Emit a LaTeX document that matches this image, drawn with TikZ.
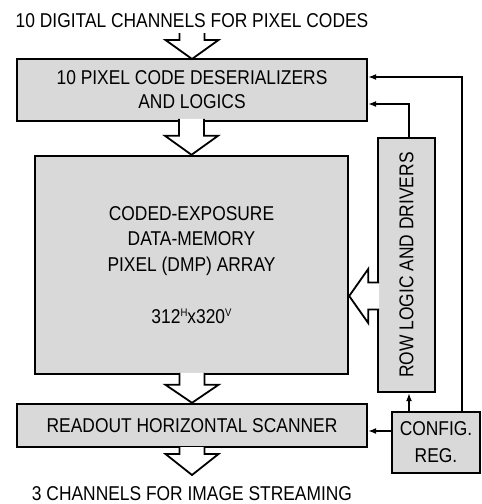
\documentclass[tikz,border=0pt]{standalone}
\usepackage{fontspec}
\setmainfont{Liberation Sans}[FakeStretch=0.87]
\usetikzlibrary{arrows.meta,calc}
\definecolor{boxgray}{RGB}{217,217,217}
\newcommand{\supx}[1]{\raisebox{6.8pt}{\fontsize{11}{11}\selectfont #1}}
\begin{document}
\begin{tikzpicture}[x=1pt,y=-1pt,
  blk/.style={draw=black,fill=boxgray,line width=2.4pt,inner sep=0pt,align=center,
    font=\fontsize{20}{24}\selectfont},
  lbl/.style={inner sep=0pt,anchor=base,font=\fontsize{20}{24}\selectfont},
  barrow/.style={draw=black,fill=white,line width=1.8pt,line join=miter},
  conn/.style={draw=black,line width=1.3pt,-{Latex[length=8pt,width=6pt]}}]
\useasboundingbox (0,0) rectangle (482,504);

\node[lbl] (inlbl) at (192,27) {10 DIGITAL CHANNELS FOR PIXEL CODES};
\node[blk,minimum width=350pt,minimum height=62pt] (top) at (192,90)
  {10 PIXEL CODE DESERIALIZERS\\AND LOGICS};
\node[blk,minimum width=313pt,minimum height=218pt] (arr) at (191.5,265)
  {CODED-EXPOSURE\\[1.5pt]DATA-MEMORY\\[1.5pt]PIXEL (DMP) ARRAY\\[28pt]312\supx{H}x320\supx{V}};
\node[blk,rotate=90,minimum width=254pt,minimum height=57pt] (rl) at (406.5,265)
  {ROW LOGIC AND DRIVERS};
\node[blk,minimum width=350pt,minimum height=43pt] (ro) at (192,425.5)
  {READOUT HORIZONTAL SCANNER};
\node[blk,minimum width=88pt,minimum height=61pt,font=\fontsize{20}{27}\selectfont] (cfg) at (436,442.5)
  {CONFIG.\\REG.};
\node[lbl] (outlbl) at (192,500) {3 CHANNELS FOR IMAGE STREAMING};

% block arrows
\draw[barrow,shift={(192,59)}] (-12.5,-26) -- (-12.5,-19) -- (-26.5,-19) -- (0,0) -- (26.5,-19) -- (12.5,-19) -- (12.5,-26);
\draw[barrow,shift={(arr.north)}] (-12.5,-36) -- (-12.5,-19) -- (-26.5,-19) -- (0,0) -- (26.5,-19) -- (12.5,-19) -- (12.5,-36);
\draw[barrow,shift={(ro.north)}] (-12.5,-30) -- (-12.5,-18) -- (-26.5,-18) -- (0,0) -- (26.5,-18) -- (12.5,-18) -- (12.5,-30);
\draw[barrow,shift={(192,475)}] (-12.5,-28) -- (-12.5,-21) -- (-26.5,-21) -- (0,0) -- (26.5,-21) -- (12.5,-21) -- (12.5,-28);
\coordinate (lt) at (348,296);
\draw[barrow,shift={(arr.east |- lt)}] (30,-13.5) -- (19,-13.5) -- (19,-27) -- (0,0) -- (19,27) -- (19,13.5) -- (30,13.5);

% connectors
\coordinate (j1) at (409,104);
\coordinate (j2) at (462,77);
\coordinate (j3) at (392,431);
\draw[conn] (rl.east -| j1) -- (j1) -- (top.east |- j1);
\draw[conn] (cfg.north -| j2) -- (j2) -- (top.east |- j2);
\draw[conn] (cfg.north -| j1) -- (rl.west -| j1);
\draw[conn] (j3) -- (ro.east |- j3);
\end{tikzpicture}
\end{document}
